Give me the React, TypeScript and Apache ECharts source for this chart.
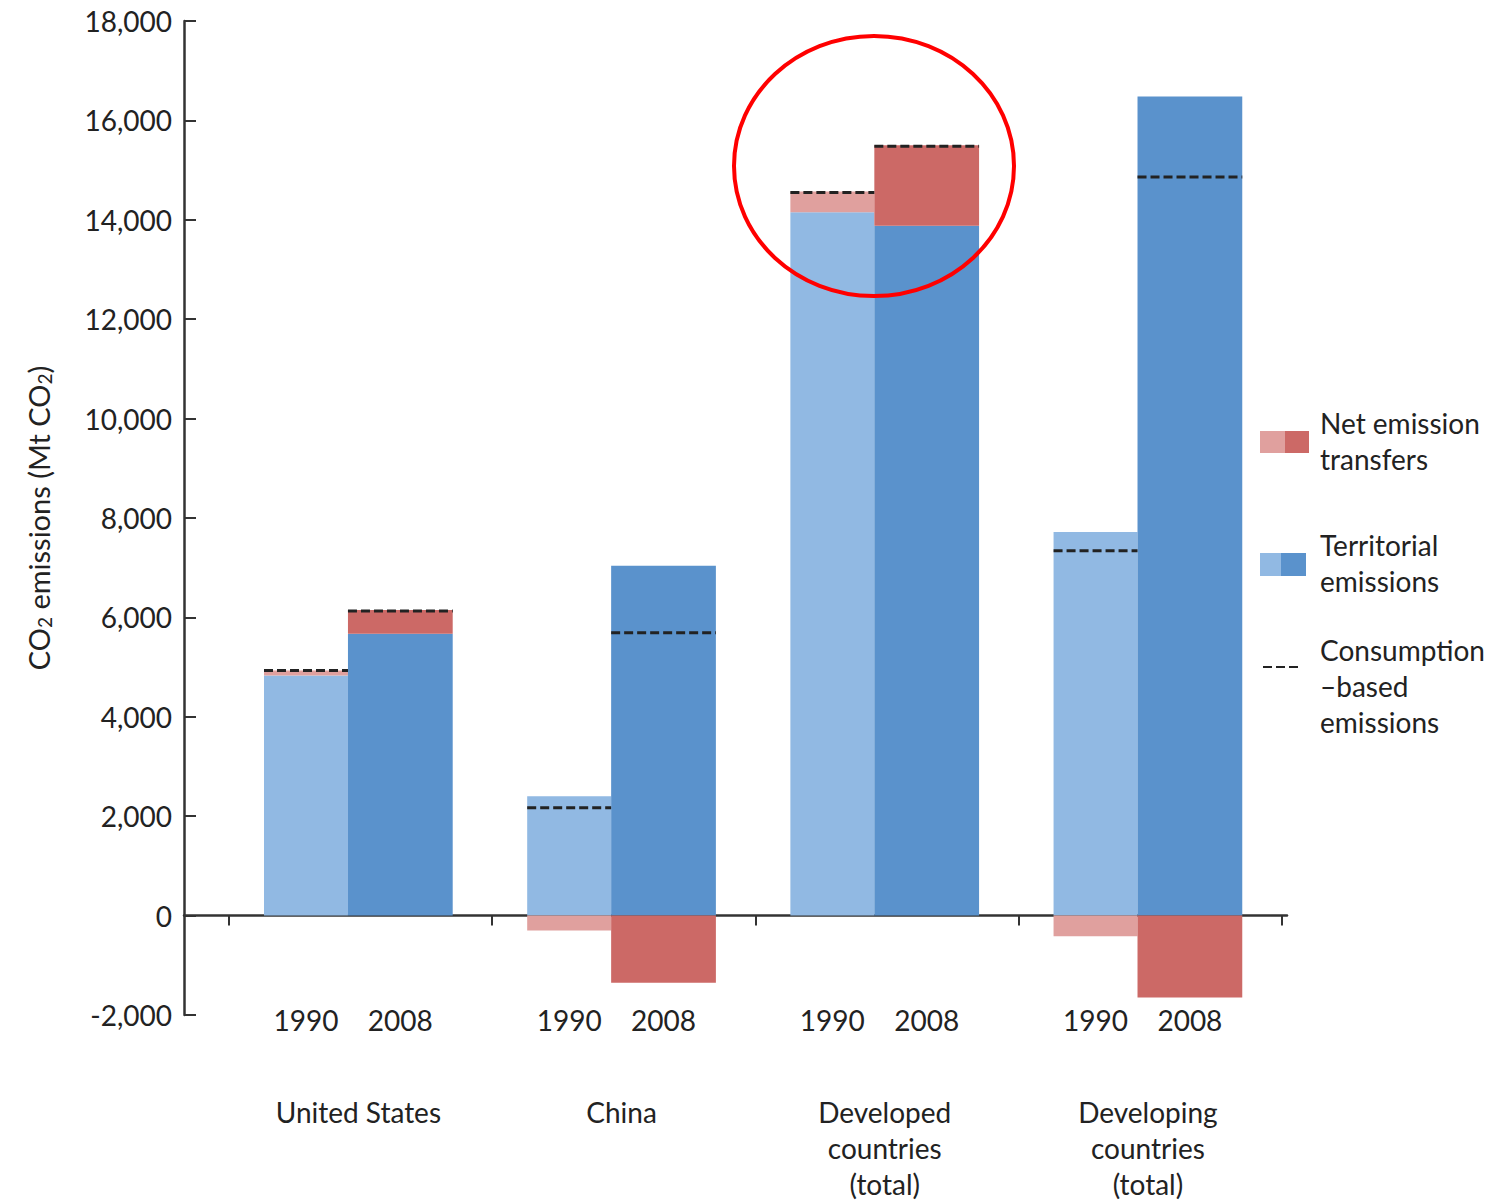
import React, { useEffect, useRef } from "react";
import * as echarts from "echarts";

// ---- data ----
const groups = ["United States", "China", "Developed\ncountries\n(total)", "Developing\ncountries\n(total)"];
const years = ["1990", "2008"];
const territorial1990 = [4830, 2400, 14150, 7720];
const territorial2008 = [5670, 7040, 13880, 16480];
const transfer1990 = [100, -300, 420, -415];
const transfer2008 = [480, -1350, 1620, -1650];
const consumption1990 = [4930, 2170, 14550, 7340];
const consumption2008 = [6130, 5690, 15480, 14860];
const legendLabels = ["Net emission\ntransfers", "Territorial\nemissions", "Consumption\n\u2013based\nemissions"];

// ---- styling / layout ----
const FONT = "Lato, 'Open Sans', sans-serif";
const TEXT = "#222222";
const AXIS = "#333333";
const terrColors = ["#91B9E3", "#5A92CC"];
const transferColors = ["#E0A09E", "#CC6966"];
const barEdges = [
  [0.133, 0.452],
  [0.452, 0.85],
];

export default function App() {
  const ref = useRef<HTMLDivElement>(null);

  useEffect(() => {
    document.body.style.margin = "0";
    const chart = echarts.init(ref.current!, null, { renderer: "svg" });

    const territorial = [territorial1990, territorial2008];
    const transfer = [transfer1990, transfer2008];
    const consumption = [consumption1990, consumption2008];

    // rect data: [group, yearIdx, yFrom, yTo, kind(0 terr,1 transfer)]
    const rects: number[][] = [];
    for (let yr = 0; yr < 2; yr++) {
      for (let g = 0; g < groups.length; g++) {
        const t = territorial[yr][g];
        const n = transfer[yr][g];
        rects.push([g, yr, 0, t, 0]);
        if (n >= 0) rects.push([g, yr, t, t + n, 1]);
        else rects.push([g, yr, n, 0, 1]);
      }
    }
    const dashes: number[][] = [];
    for (let yr = 0; yr < 2; yr++)
      for (let g = 0; g < groups.length; g++) dashes.push([g, yr, consumption[yr][g]]);
    const yearLabels: number[][] = [];
    for (let g = 0; g < groups.length; g++) for (let yr = 0; yr < 2; yr++) yearLabels.push([g, yr, -2000]);
    const groupLabels: number[][] = groups.map((_, g) => [g, 0, -2000]);

    const option: any = {
      animation: false,
      backgroundColor: "#ffffff",
      grid: { left: 184, right: 205, top: 21, bottom: 185, containLabel: false, outerBoundsMode: "none" },
      xAxis: {
        type: "value",
        min: -0.171,
        max: 4.02,
        axisLine: { show: true, onZero: true, lineStyle: { color: AXIS, width: 2.5 } },
        axisTick: { show: true, customValues: [0, 1, 2, 3, 4], length: 10, inside: false, lineStyle: { color: AXIS, width: 2 } },
        axisLabel: { show: false },
        splitLine: { show: false },
      },
      yAxis: {
        type: "value",
        min: -2000,
        max: 18000,
        interval: 2000,
        name: "CO{sub|2} emissions (Mt CO{sub|2})",
        nameLocation: "middle",
        nameGap: 130,
        nameTextStyle: {
          color: TEXT,
          fontFamily: FONT,
          fontSize: 29,
          lineHeight: 32,
          rich: { sub: { fontSize: 19, fontFamily: FONT, color: TEXT, verticalAlign: "bottom", lineHeight: 32, padding: [10, 0, 0, 0] } },
        },
        axisLine: { show: true, onZero: false, lineStyle: { color: AXIS, width: 2.5 } },
        axisTick: { show: true, inside: true, length: 12, lineStyle: { color: AXIS, width: 2 } },
        axisLabel: {
          color: TEXT,
          fontFamily: FONT,
          fontSize: 28,
          margin: 12,
          formatter: (v: number) => v.toLocaleString("en-US"),
        },
        splitLine: { show: false },
      },
      series: [
        {
          type: "custom",
          name: "bars",
          data: rects,
          encode: { x: 0, y: 2 },
          z: 2,
          renderItem: (params: any, api: any) => {
            const g = api.value(0);
            const yr = api.value(1);
            const y0 = api.value(2);
            const y1 = api.value(3);
            const kind = api.value(4);
            const p1 = api.coord([g + barEdges[yr][0], y1]);
            const p2 = api.coord([g + barEdges[yr][1], y0]);
            return {
              type: "rect",
              shape: { x: p1[0], y: p1[1], width: p2[0] - p1[0], height: p2[1] - p1[1] },
              style: { fill: kind === 0 ? terrColors[yr] : transferColors[yr] },
            };
          },
        },
        {
          type: "custom",
          name: "consumption",
          data: dashes,
          encode: { x: 0, y: 2 },
          z: 5,
          renderItem: (params: any, api: any) => {
            const g = api.value(0);
            const yr = api.value(1);
            const v = api.value(2);
            const p1 = api.coord([g + barEdges[yr][0], v]);
            const p2 = api.coord([g + barEdges[yr][1], v]);
            return {
              type: "line",
              shape: { x1: p1[0], y1: p1[1], x2: p2[0], y2: p2[1] },
              style: { stroke: "#222222", lineWidth: 3, lineDash: [9, 4] },
            };
          },
        },
        {
          type: "custom",
          name: "years",
          data: yearLabels,
          encode: { x: 0, y: 2 },
          clip: false,
          z: 5,
          renderItem: (params: any, api: any) => {
            const g = api.value(0);
            const yr = api.value(1);
            const p = api.coord([g + (barEdges[yr][0] + barEdges[yr][1]) / 2, api.value(2)]);
            return {
              type: "text",
              x: p[0],
              y: p[1] + 5,
              style: {
                text: years[yr],
                fill: TEXT,
                font: `28px ${FONT}`,
                align: "center",
                verticalAlign: "middle",
                textAlign: "center",
                textVerticalAlign: "middle",
              },
            };
          },
        },
        {
          type: "custom",
          name: "groups",
          data: groupLabels,
          encode: { x: 0, y: 2 },
          clip: false,
          z: 5,
          renderItem: (params: any, api: any) => {
            const g = api.value(0);
            const p = api.coord([g + (barEdges[0][0] + barEdges[1][1]) / 2, api.value(2)]);
            return {
              type: "text",
              x: p[0],
              y: p[1] + 79,
              style: {
                text: groups[g],
                fill: TEXT,
                font: `28px ${FONT}`,
                lineHeight: 36,
                align: "center",
                verticalAlign: "top",
                textAlign: "center",
                textVerticalAlign: "top",
              },
            };
          },
        },
      ],
      graphic: [
        // legend
        { type: "rect", shape: { x: 1260, y: 431, width: 25, height: 22 }, style: { fill: transferColors[0] } },
        { type: "rect", shape: { x: 1285, y: 431, width: 24, height: 22 }, style: { fill: transferColors[1] } },
        { type: "rect", shape: { x: 1260, y: 553, width: 21, height: 23 }, style: { fill: terrColors[0] } },
        { type: "rect", shape: { x: 1281, y: 553, width: 25, height: 23 }, style: { fill: terrColors[1] } },
        {
          type: "line",
          shape: { x1: 1263, y1: 667, x2: 1300, y2: 667 },
          style: { stroke: "#222222", lineWidth: 2, lineDash: [9, 4] },
        },
        ...legendLabels.map((t, i) => ({
          type: "text",
          x: 1320,
          y: [405, 527, 632][i],
          style: {
            text: t,
            fill: TEXT,
            font: `28px ${FONT}`,
            lineHeight: 36,
            align: "left",
            verticalAlign: "top",
            textAlign: "left",
            textVerticalAlign: "top",
          },
        })),
        // red annotation circle
        {
          type: "ellipse",
          z: 100,
          shape: { cx: 874, cy: 166, rx: 140, ry: 130 },
          style: { fill: "rgba(0,0,0,0)", stroke: "#FF0000", lineWidth: 4 },
        },
      ],
    };

    chart.setOption(option);
    return () => chart.dispose();
  }, []);

  return <div ref={ref} style={{ width: 1492, height: 1200 }} />;
}
